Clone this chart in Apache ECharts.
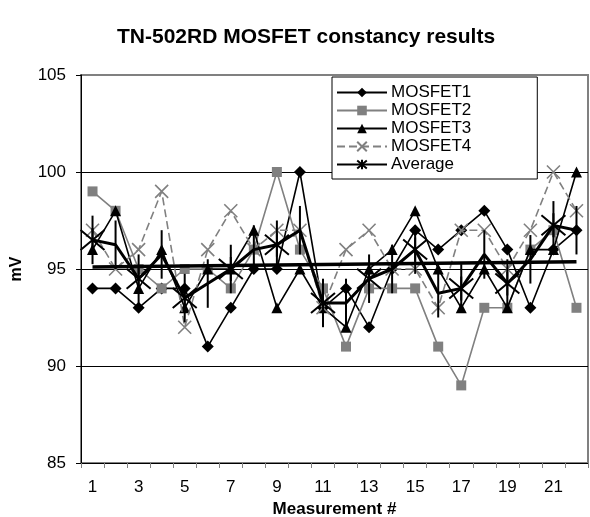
<!DOCTYPE html>
<html><head><meta charset="utf-8">
<script src="https://cdn.jsdelivr.net/npm/echarts@6/dist/echarts.min.js"></script>
<style>html,body{margin:0;padding:0;background:#fff}#c{width:590px;height:517px}</style>
</head><body><div id="c"></div><script>
const categories = ['1','2','3','4','5','6','7','8','9','10','11','12','13','14','15','16','17','18','19','20','21','22'];
const mosfet1 = [94,94,93,94,94,91,93,95,95,100,93,94,92,95,97,96,97,98,96,93,96,97];
const mosfet2 = [99,98,95,94,95,95,94,96,100,96,94,91,94,94,94,91,89,93,93,96,97,93];
const mosfet3 = [96,98,94,96,93,95,95,97,93,95,93,92,95,96,98,95,93,95,93,96,96,100];
const mosfet4 = [97,95,96,99,92,96,98,96,97,97,93,96,97,95,95,93,97,97,95,97,100,98];
const average = [96.5,96.25,94.5,95.75,93.5,94.25,95,96,96.25,97,93.25,93.25,94.5,95,96,93.75,94,95.75,94.25,95.5,97.25,97];
const errHalf = 1.25;            // error bar half-length
const trendStart = 95.1, trendEnd = 95.38; // linear trendline end values
const yTicks = [85, 90, 95, 100, 105];

const FONT = 'Liberation Sans, Arial, sans-serif';
const X_PATH = 'path://M0,0L10,10M10,0L0,10';
const STAR_PATH = 'path://M0,0L10,10M10,0L0,10M5,-1L5,11';

const chart = echarts.init(document.getElementById('c'), null, {renderer:'canvas'});
chart.setOption({
  animation: false,
  backgroundColor: '#fff',
  textStyle: {fontFamily: FONT},
  title: {
    text: 'TN-502RD MOSFET constancy results',
    left: 112, top: 22,
    textStyle: {fontFamily: FONT, fontSize: 21, fontWeight: 'bold', color: '#000'}
  },
  legend: {
    orient: 'vertical', left: 332, top: 77,
    padding: [7, 66, 6, 4],
    itemGap: 1, itemWidth: 50, itemHeight: 12,
    backgroundColor: '#fff', borderColor: '#000', borderWidth: 1,
    data: ['MOSFET1','MOSFET2','MOSFET3','MOSFET4','Average'],
    textStyle: {fontFamily: FONT, fontSize: 17, color: '#000', lineHeight: 17, padding: [0,0,0,-1]}
  },
  grid: {left: 81, top: 75, right: 2, bottom: 54, containLabel: false, outerBoundsMode: 'none',
         show: true, borderColor: '#808080', borderWidth: 2},
  xAxis: {
    type: 'category', data: categories, boundaryGap: true,
    name: 'Measurement #', nameLocation: 'middle', nameGap: 35,
    nameTextStyle: {fontFamily: FONT, fontSize: 17, fontWeight: 'bold', color: '#000'},
    axisLine: {lineStyle: {color: '#000', width: 1}},
    axisTick: {show: true, interval: 0, length: 5, lineStyle: {color: '#808080'}},
    axisLabel: {interval: 1, fontFamily: FONT, fontSize: 17, color: '#000', margin: 16}
  },
  yAxis: {
    type: 'value', min: yTicks[0], max: yTicks[yTicks.length-1], interval: 5,
    name: 'mV', nameLocation: 'middle', nameGap: 56,
    nameTextStyle: {fontFamily: FONT, fontSize: 16, fontWeight: 'bold', color: '#000'},
    axisLine: {show: true, lineStyle: {color: '#000', width: 1}},
    axisTick: {show: true, length: 5, lineStyle: {color: '#000'}},
    axisLabel: {fontFamily: FONT, fontSize: 17, color: '#000', margin: 15},
    splitLine: {show: true, lineStyle: {color: ['rgba(0,0,0,0)','#000','#000','#000','#808080'], width: 1}}
  },
  series: [
    {name: 'MOSFET1', type: 'line', data: mosfet1, symbol: 'diamond', symbolSize: 12,
     itemStyle: {color: '#000'}, lineStyle: {color: '#000', width: 1.6}, z: 2},
    {name: 'MOSFET2', type: 'line', data: mosfet2, symbol: 'rect', symbolSize: 10,
     itemStyle: {color: '#808080'}, lineStyle: {color: '#808080', width: 1.6}, z: 3},
    {name: 'MOSFET3', type: 'line', data: mosfet3, symbol: 'triangle', symbolSize: 11,
     itemStyle: {color: '#000'}, lineStyle: {color: '#000', width: 1.6}, z: 4},
    {name: 'MOSFET4', type: 'line', data: mosfet4, symbol: X_PATH, symbolSize: 13,
     itemStyle: {color: 'rgba(0,0,0,0)', borderColor: '#808080', borderWidth: 1.6},
     lineStyle: {color: '#808080', width: 1.6, type: [8, 4]}, z: 5},
    {name: 'Average', type: 'line', data: average, symbol: STAR_PATH, symbolSize: 24,
     itemStyle: {color: 'rgba(0,0,0,0)', borderColor: '#000', borderWidth: 2},
     lineStyle: {color: '#000', width: 3}, z: 6},
    {name: 'Average error', type: 'custom', z: 7,
     data: average.map((v, i) => [i, v - errHalf, v + errHalf]),
     renderItem: function (params, api) {
       const p1 = api.coord([api.value(0), api.value(1)]);
       const p2 = api.coord([api.value(0), api.value(2)]);
       return {type: 'line', shape: {x1: p1[0], y1: p1[1], x2: p2[0], y2: p2[1]},
               style: {stroke: '#000', lineWidth: 2}};
     }},
    {name: 'Trend', type: 'line', data: [[0, trendStart], [categories.length - 1, trendEnd]],
     showSymbol: false, symbol: 'none', lineStyle: {color: '#000', width: 3.5}, z: 8}
  ]
});
</script></body></html>
